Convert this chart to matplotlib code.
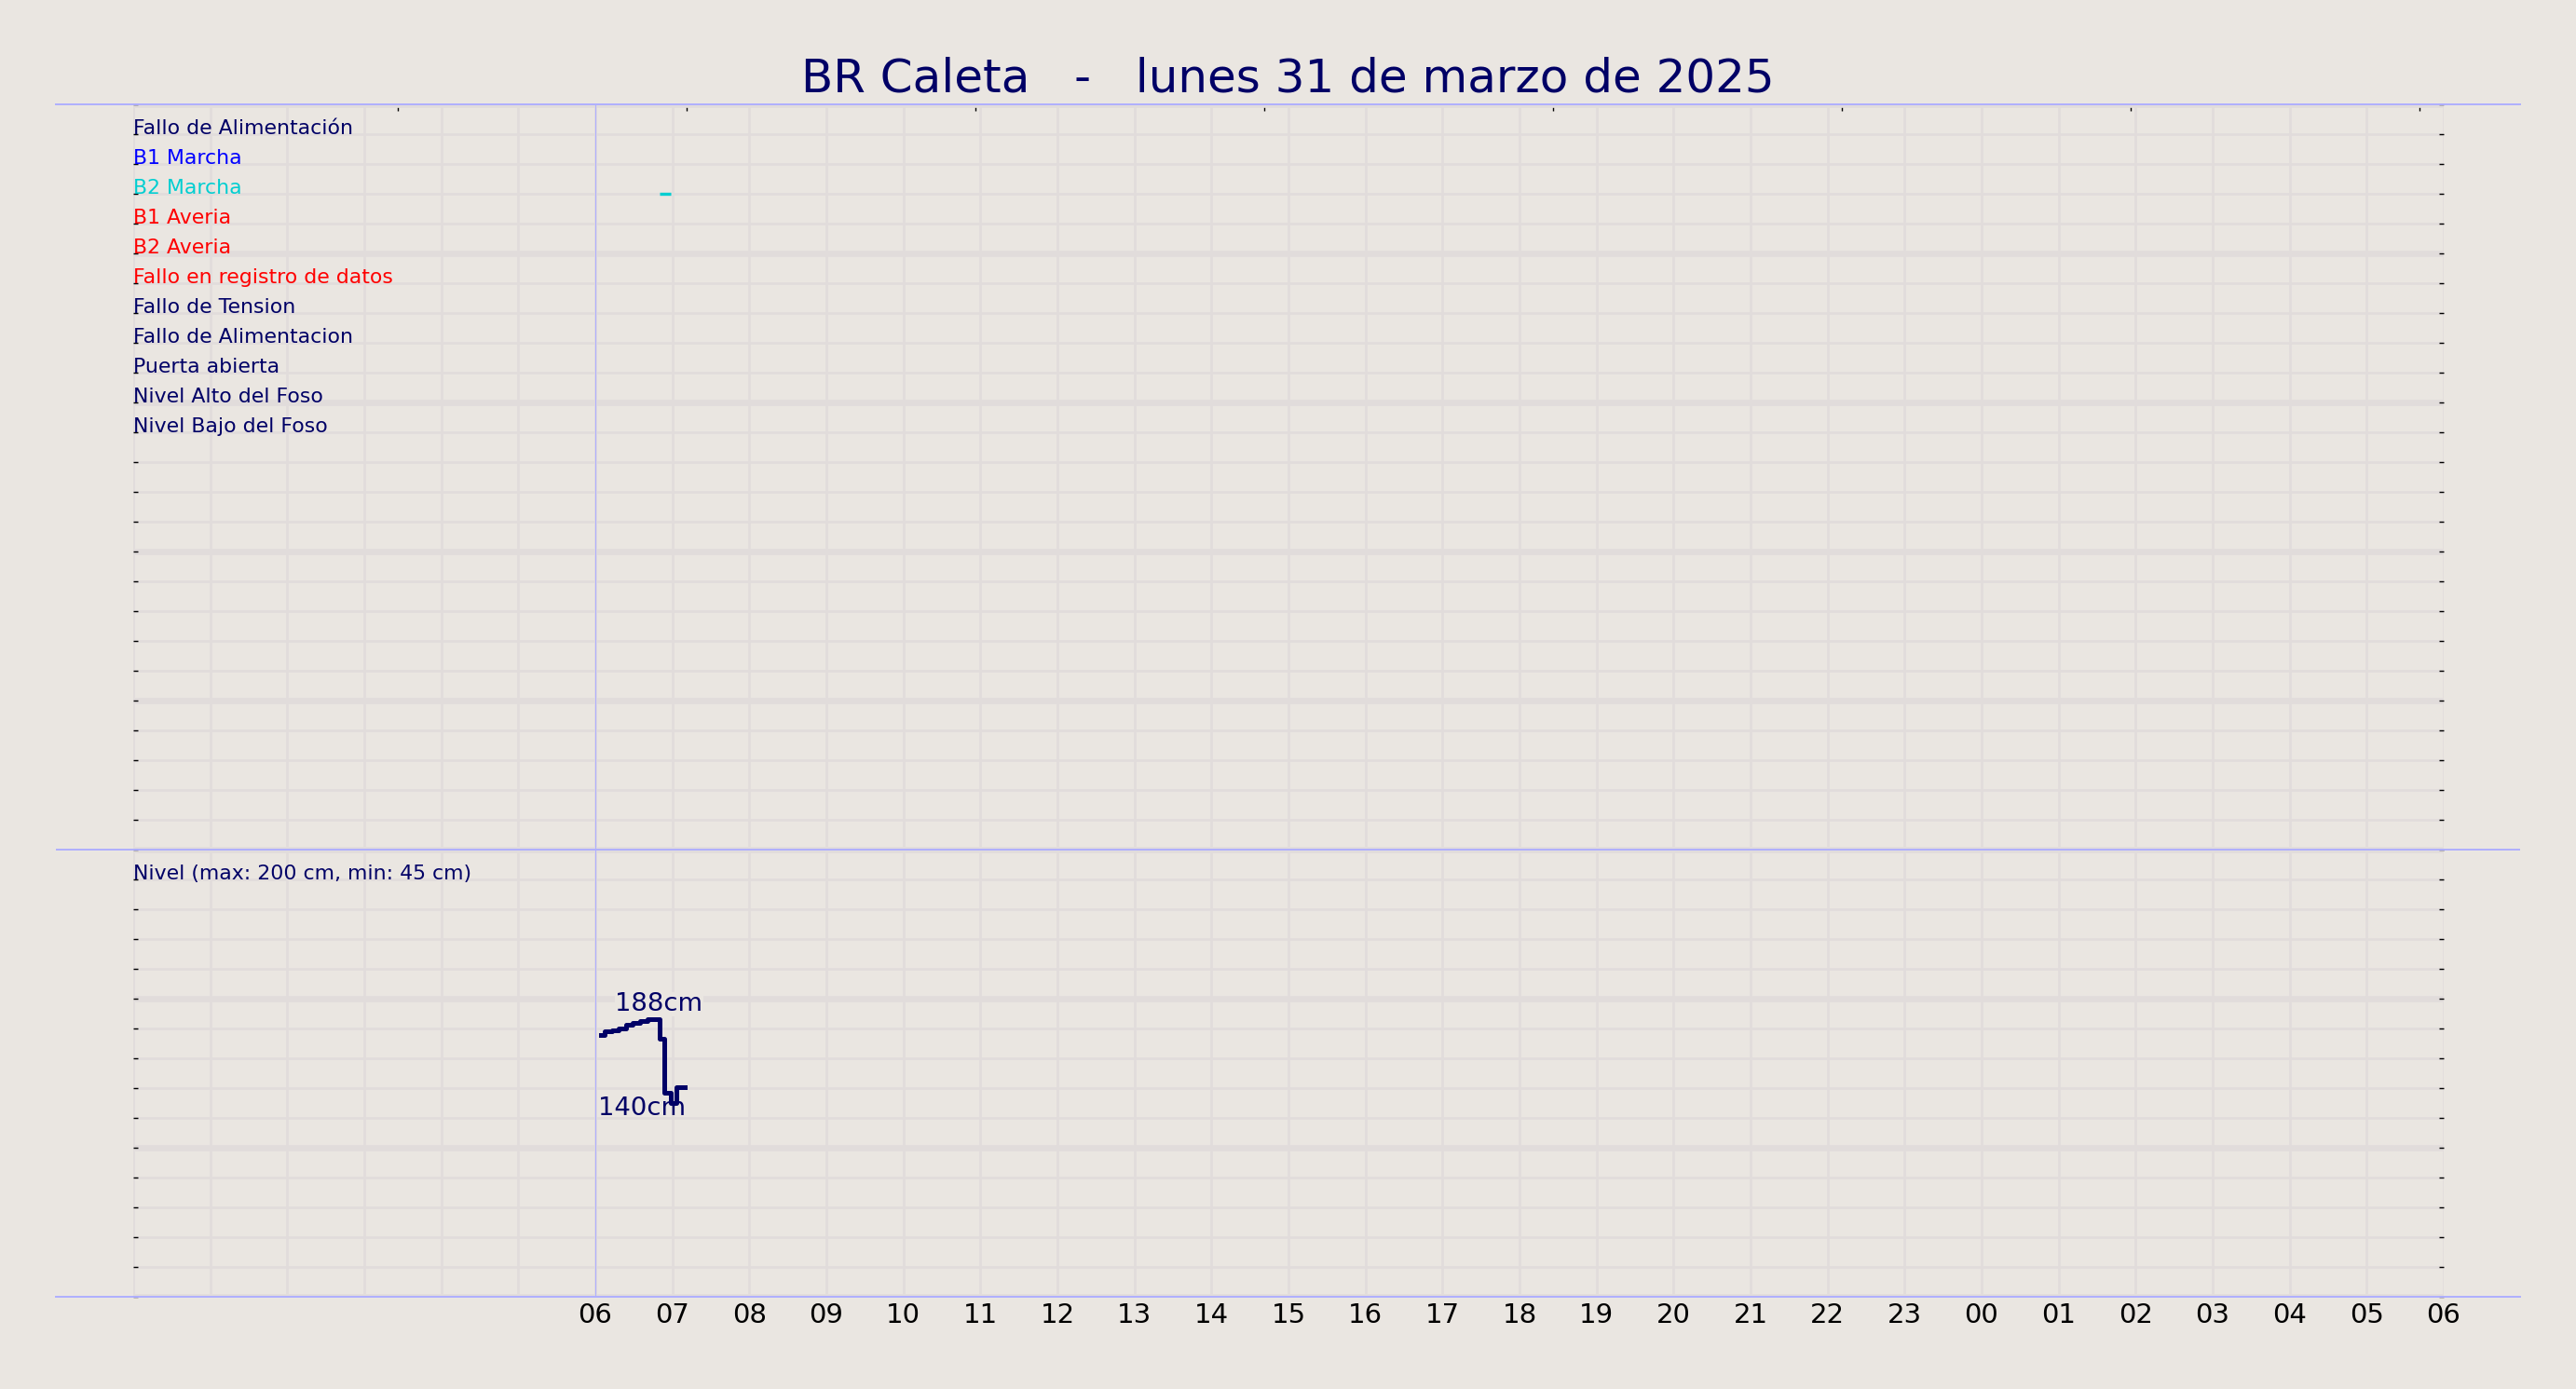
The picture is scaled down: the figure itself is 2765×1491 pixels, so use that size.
import matplotlib
matplotlib.use("Agg")
import matplotlib.pyplot as plt
from matplotlib.ticker import FixedLocator, MultipleLocator
import numpy as np

BG = "#EAE6E1"
GRID = "#E1DCDB"
NAVY = "#000066"
FRAME_BLUE = "#AFAFFF"

title = "BR Caleta   -   lunes 31 de marzo de 2025"

# señales digitales (de arriba a abajo)
signal_names = ["Fallo de Alimentación", "B1 Marcha", "B2 Marcha", "B1 Averia",
                "B2 Averia", "Fallo en registro de datos", "Fallo de Tension",
                "Fallo de Alimentacion", "Puerta abierta", "Nivel Alto del Foso",
                "Nivel Bajo del Foso"]
signal_colors = [NAVY, "#0000FF", "#00CED1", "#FF0000", "#FF0000", "#FF0000",
                 NAVY, NAVY, NAVY, NAVY, NAVY]

# periodos activos
event_signal = ["B2 Marcha"]
event_start = ["06:50"]
event_end = ["06:59"]

# nivel del foso
level_times = ["06:04", "06:07", "06:13", "06:18", "06:24", "06:29", "06:35",
               "06:41", "06:50", "06:54", "06:59", "07:03", "07:10"]
level_cm = [179, 181, 182, 183, 185, 186, 187, 188, 177, 146, 140, 149, 149]
level_max = 200
level_min = 45

hour_ticks = list(range(6, 31))
hour_labels = [f"{h % 24:02d}" for h in hour_ticks]


def to_hours(s):
    h, m = s.split(":")
    return int(h) + int(m) / 60


# layout en pixeles
W, H = 2765, 1491
left_px, right_px = 143, 2623
top_px, mid_px, bot_px = 112, 912, 1392

fig = plt.figure(figsize=(W / 100, H / 100), dpi=100, facecolor=BG)

ax_sig = fig.add_axes([left_px / W, 1 - mid_px / H, (right_px - left_px) / W, (mid_px - top_px) / H])
ax_lvl = fig.add_axes([left_px / W, 1 - bot_px / H, (right_px - left_px) / W, (bot_px - mid_px) / H])


def style(ax, lo, hi, n_rows):
    ax.set_facecolor(BG)
    ax.set_xlim(0, 30)
    ax.set_ylim(lo, hi)
    step = (hi - lo) / n_rows
    ax.yaxis.set_major_locator(FixedLocator(lo + step * np.arange(0, n_rows + 1, 5)))
    ax.yaxis.set_minor_locator(FixedLocator(lo + step * np.arange(n_rows + 1)))
    ax.xaxis.set_major_locator(FixedLocator(hour_ticks))
    ax.xaxis.set_minor_locator(MultipleLocator(1))
    ax.grid(which="major", axis="y", color=GRID, lw=4.8)
    ax.grid(which="minor", color=GRID, lw=1.9)
    ax.grid(which="major", axis="x", color=GRID, lw=1.9)
    ax.set_axisbelow(True)
    for sp in ax.spines.values():
        sp.set_visible(False)
    ax.tick_params(axis="y", which="both", direction="in", left=True, right=True,
                   length=3.5, width=1, labelleft=False)
    ax.tick_params(axis="x", which="both", length=0)
    ax.axvline(6, color=FRAME_BLUE, lw=0.8, zorder=1)


n_sig_rows = 25
style(ax_sig, 0, n_sig_rows, n_sig_rows)
ax_sig.tick_params(axis="x", labelbottom=False)

for i, (name, col) in enumerate(zip(signal_names, signal_colors)):
    ax_sig.text(0, n_sig_rows - 1 - i, name, color=col, fontsize=15.8,
                ha="left", va="baseline")

for sig, t0, t1 in zip(event_signal, event_start, event_end):
    i = signal_names.index(sig)
    ax_sig.hlines(n_sig_rows - 1 - i, to_hours(t0), to_hours(t1),
                  color=signal_colors[i], lw=2.4)

# marcas superiores
sec = ax_sig.secondary_xaxis("top")
sec.set_xticks(3.43 + 3.75 * np.arange(8), labels=[])
sec.tick_params(direction="in", length=5, width=1)
for sp in sec.spines.values():
    sp.set_visible(False)

# panel de nivel
lvl_lo, lvl_hi = 28.6, 285.7
style(ax_lvl, lvl_lo, lvl_hi, 15)
ax_lvl.set_xticks(hour_ticks, labels=hour_labels)
ax_lvl.tick_params(axis="x", labelsize=21, pad=4, labelcolor="black")

lvl_step = (lvl_hi - lvl_lo) / 15
ax_lvl.text(0, lvl_hi - lvl_step, f"Nivel (max: {level_max} cm, min: {level_min} cm)",
            color=NAVY, fontsize=15.8, ha="left", va="baseline")

t = [to_hours(s) for s in level_times]
ax_lvl.plot(t, level_cm, drawstyle="steps-post", color=NAVY, lw=3.6, zorder=3)

imax = int(np.argmax(level_cm))
imin = int(np.argmin(level_cm))
box = dict(boxstyle="square,pad=0", fc=BG, ec="none")
ax_lvl.annotate(f"{level_cm[imax]}cm", xy=(t[imax], level_cm[imax]), xytext=(12, 9),
                textcoords="offset pixels", ha="center", va="baseline",
                fontsize=19.7, color=NAVY, bbox=box, zorder=2)
ax_lvl.annotate(f"{level_cm[imin]}cm", xy=(t[imin], level_cm[imin]), xytext=(-31, -13),
                textcoords="offset pixels", ha="center", va="baseline",
                fontsize=19.7, color=NAVY, zorder=4)

# marco azul
frame = fig.add_axes([60 / W, 1 - bot_px / H, (2705 - 60) / W, (bot_px - top_px) / H], zorder=5)
frame.patch.set_visible(False)
frame.set_xticks([])
frame.set_yticks([])
frame.spines["left"].set_visible(False)
frame.spines["right"].set_visible(False)
frame.spines["top"].set_color(FRAME_BLUE)
frame.spines["bottom"].set_color(FRAME_BLUE)
frame.spines["top"].set_linewidth(1.4)
frame.spines["bottom"].set_linewidth(1.4)
frame.axhline((bot_px - mid_px) / (bot_px - top_px), color=FRAME_BLUE, lw=1.4)

fig.text(0.5, 1 - 98.3 / H, title, ha="center", va="baseline", fontsize=36, color=NAVY)

fig.savefig("out.png", dpi=100, facecolor=BG)
